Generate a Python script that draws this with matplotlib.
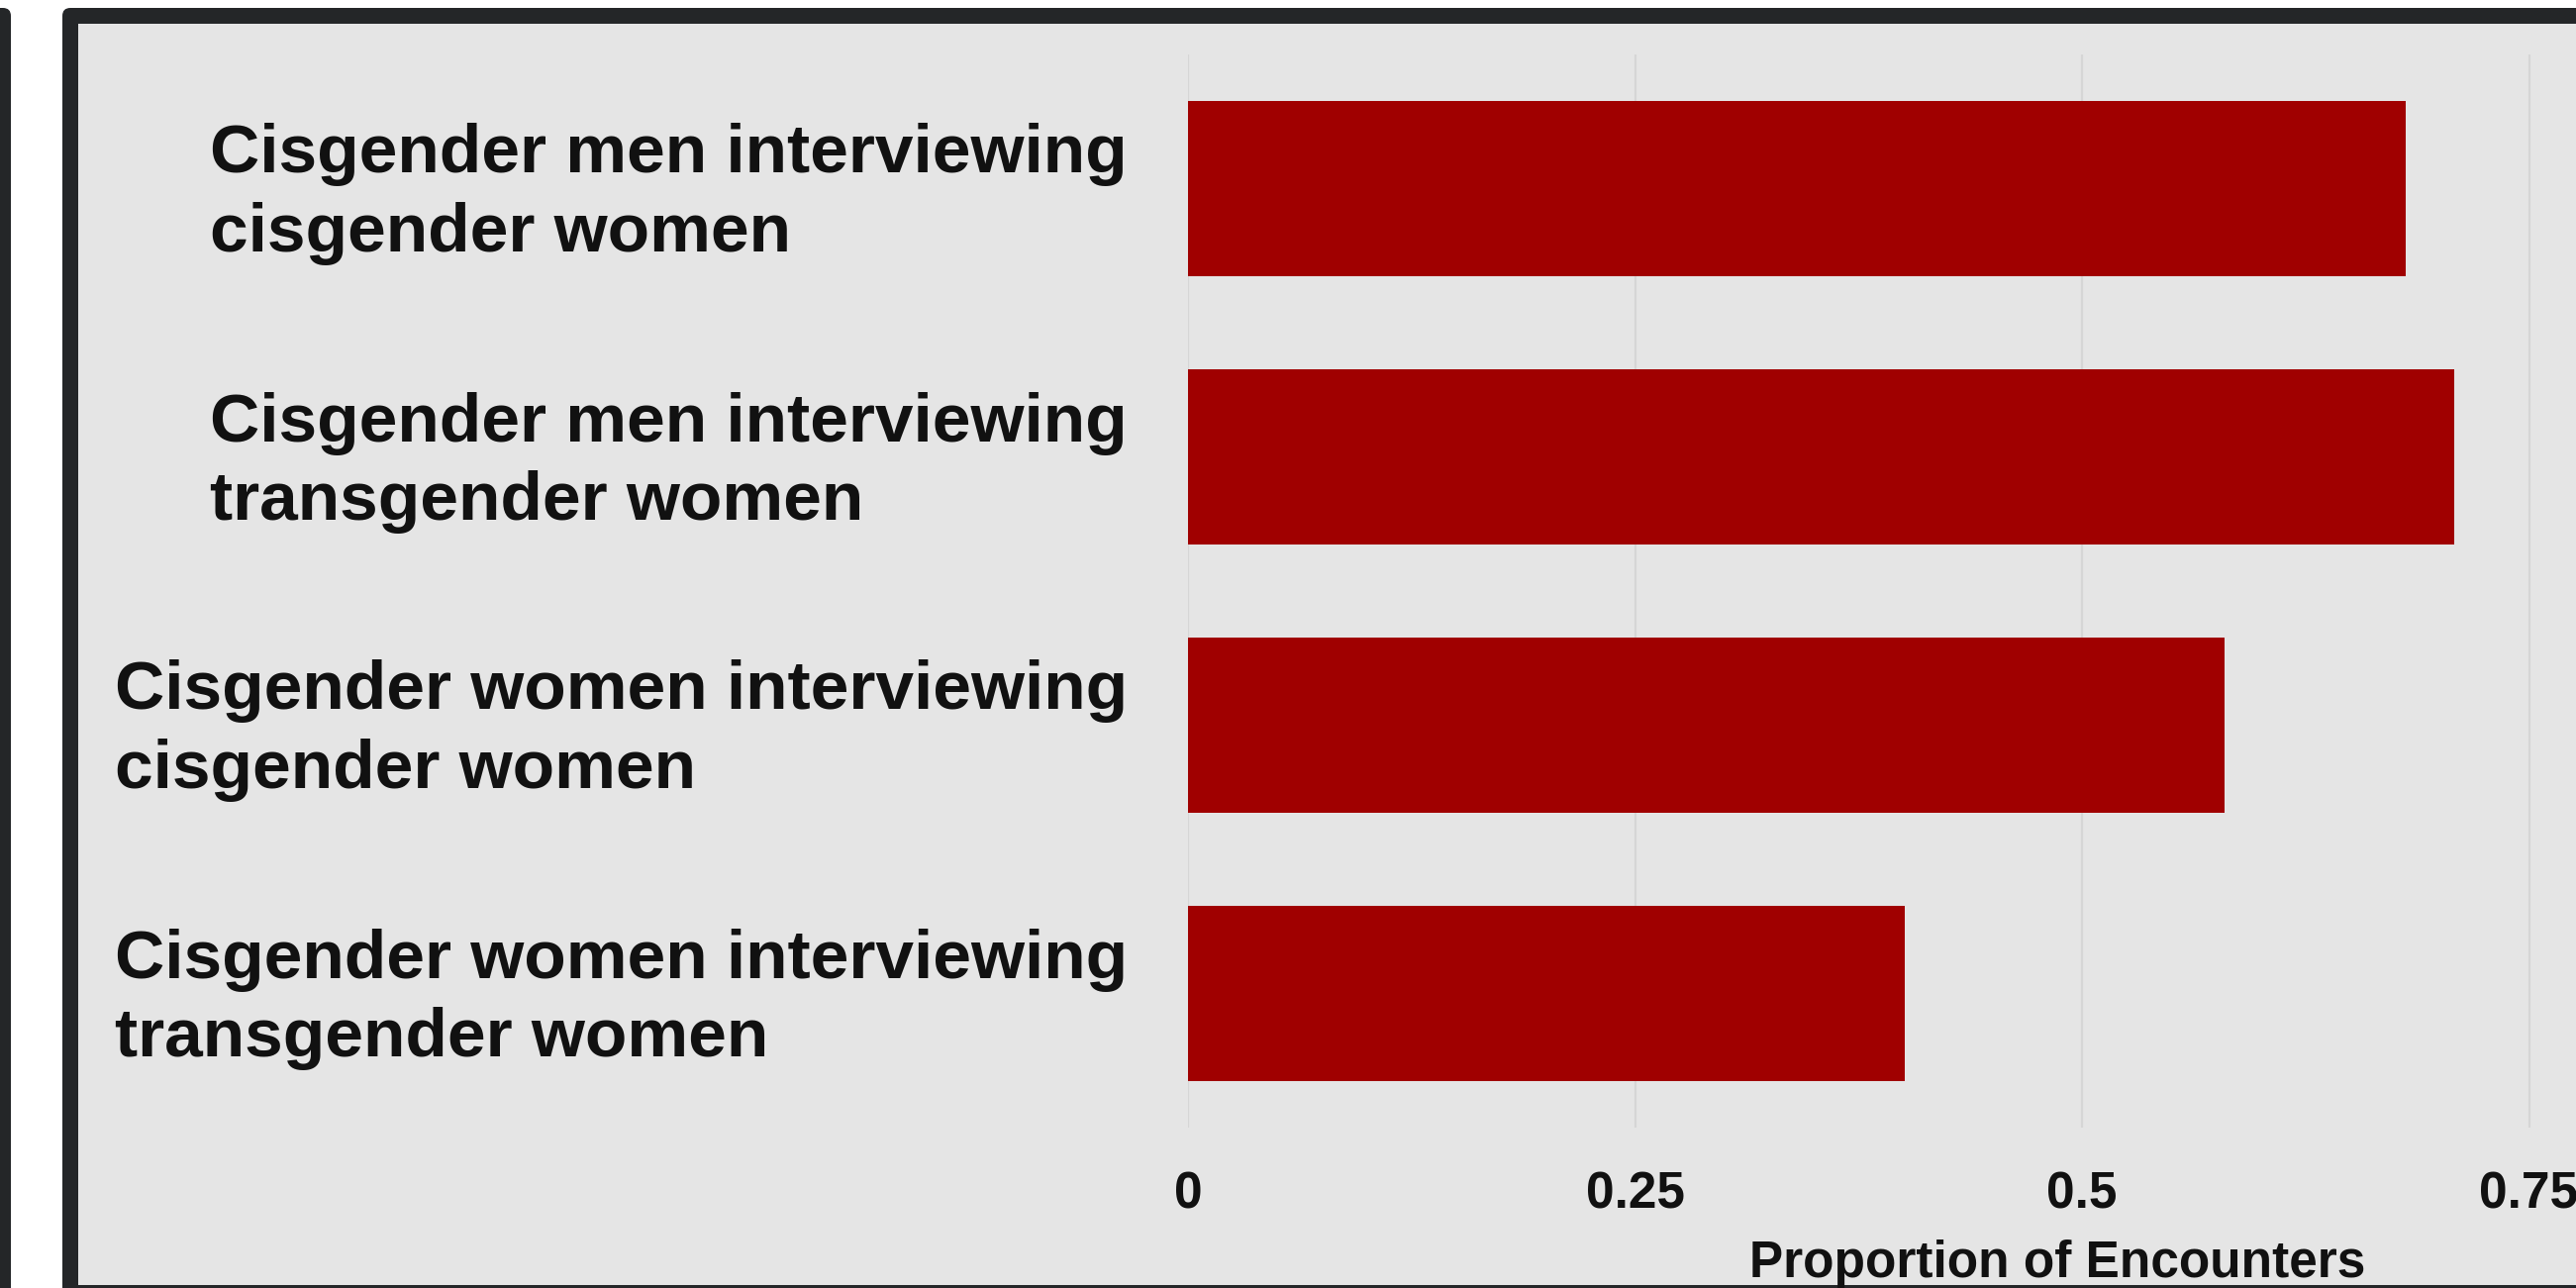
import matplotlib.pyplot as plt
from matplotlib.patches import FancyBboxPatch
from matplotlib.transforms import IdentityTransform, ScaledTranslation

categories = [
    'Cisgender men interviewing\ncisgender women',
    'Cisgender men interviewing\ntransgender women',
    'Cisgender women interviewing\ncisgender women',
    'Cisgender women interviewing\ntransgender women',
]
proportions = [0.681, 0.708, 0.580, 0.401]
x_ticks = [0, 0.25, 0.5, 0.75]
x_tick_labels = ['0', '0.25', '0.5', '0.75']

plt.rcParams['font.family'] = ['Liberation Sans', 'DejaVu Sans']
plt.rcParams['font.weight'] = 'bold'

W, H = 2602, 1301
fig = plt.figure(figsize=(W / 100, H / 100), dpi=100, facecolor='white')

dark = '#242628'
panel = '#e5e5e5'
ink = '#111111'

# frame pieces (pixel coords, origin bottom-left)
outer = FancyBboxPatch((63, -50), 2700, H - 8 + 50, boxstyle='round,pad=0,rounding_size=8',
                       transform=IdentityTransform(), facecolor=dark, edgecolor='none', zorder=-10)
inner = FancyBboxPatch((79, H - 1298), 2700, 1298 - 24, boxstyle='square,pad=0',
                       transform=IdentityTransform(), facecolor=panel, edgecolor='none', zorder=-9)
strip = FancyBboxPatch((-50, -50), 61, H - 8 + 50, boxstyle='round,pad=0,rounding_size=8',
                       transform=IdentityTransform(), facecolor=dark, edgecolor='none', zorder=-10)
for p in (outer, inner, strip):
    fig.patches.append(p)

# plot panel runs past the right edge of the picture (it is a cropped screenshot)
ax = fig.add_axes([1200 / W, 1 - 1139 / H, 1756 / W, (1139 - 55) / H])
ax.set_facecolor('none')

ypos = list(range(len(categories)))
ax.barh(ypos, proportions, height=0.65, color='#a00000', zorder=3)

ax.set_xlim(0, 1756 / 1806)
ax.set_ylim(len(categories) - 0.5, -0.5)
ax.set_xticks(x_ticks)
ax.set_xticklabels(x_tick_labels, fontsize=37, fontweight='bold', color=ink)
ax.set_yticks(ypos)
ax.set_yticklabels(categories, fontsize=50, fontweight='bold', color=ink,
                   multialignment='left', linespacing=1.31)
ax.tick_params(axis='x', length=0, pad=31)
ax.tick_params(axis='y', length=0, pad=44)
# nudge the two-line labels up a touch so they sit centred on the bars
for lab in ax.get_yticklabels():
    lab.set_transform(lab.get_transform() + ScaledTranslation(0, 0.09, fig.dpi_scale_trans))
ax.grid(axis='x', color='#d6d6d6', linewidth=1.6, zorder=0)
ax.grid(axis='y', visible=False)
for s in ax.spines.values():
    s.set_visible(False)

ax.set_xlabel('Proportion of Encounters', fontsize=37, fontweight='bold', color=ink, labelpad=15)

fig.savefig('out.png', dpi=100, facecolor='white')
